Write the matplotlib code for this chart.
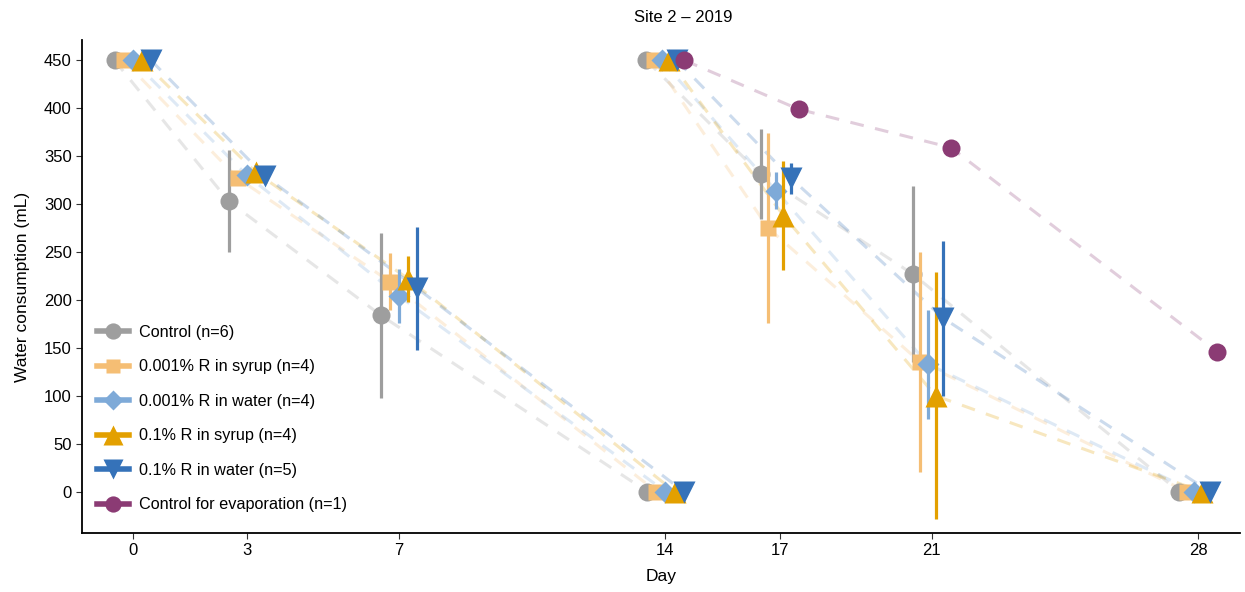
# coding: utf-8

import numpy as np
import matplotlib
matplotlib.use('agg')
import matplotlib.pyplot as plt
from matplotlib.lines import Line2D

plt.rcParams['font.family'] = ['Liberation Sans', 'DejaVu Sans']

groups = ['Control (n=6)', '0.001% R in syrup (n=4)', '0.001% R in water (n=4)',
          '0.1% R in syrup (n=4)', '0.1% R in water (n=5)',
          'Control for evaporation (n=1)']
colors = ['#9e9e9e', '#f5be74', '#7eaad8', '#e3a000', '#3572b9', '#8b3b74']
markers = ['o', 's', 'D', '^', 'v', 'o']
msizes = [13, 11.5, 11, 16.5, 16.5, 13]

day_ticks = [0, 3, 7, 14, 17, 21, 28]

# first refill cycle (days 0-14), no evaporation control
days_1 = [0, 3, 7, 14]
means_1 = [
    [450, 303, 184, 0],
    [450, 327, 219, 0],
    [450, 330, 204, 0],
    [450, 333, 222, 0],
    [450, 329, 212, 0],
]
se_1 = [
    [0, 53, 86, 0],
    [0, 6, 30, 0],
    [0, 5, 28, 0],
    [0, 6, 24, 0],
    [0, 5, 64, 0],
]

# second refill cycle (days 14-28)
days_2 = [14, 17, 21, 28]
means_2 = [
    [450, 331, 227, 0],
    [450, 275, 135, 0],
    [450, 314, 133, 0],
    [450, 288, 100, 0],
    [450, 327, 181, 0],
    [450, 399, 359, 146],
]
se_2 = [
    [0, 47, 92, 0],
    [0, 99, 115, 0],
    [0, 19, 57, 0],
    [0, 57, 129, 0],
    [0, 16, 81, 0],
    [0, 0, 0, 0],
]

DODGE = 1.2


def draw_cycle(ax, days, means, se):
    n = len(means)
    for i, (m, s) in enumerate(zip(means, se)):
        x = np.array(days) + (i - (n - 1) / 2.0) * DODGE / n
        ax.plot(x, m, color=colors[i], lw=2.2, alpha=0.25,
                ls=(0, (4.5, 3.8)), zorder=1)
        m = np.array(m, dtype=float)
        s = np.array(s, dtype=float)
        ax.vlines(x, m - s, m + s, color=colors[i], lw=2.3, zorder=2 + i)
        ax.plot(x, m, ls='none', marker=markers[i], ms=msizes[i],
                color=colors[i], mec='none', zorder=2.5 + i)


fig = plt.figure(figsize=(12.45, 5.92), dpi=100)
ax = fig.add_axes([0.066, 0.1, 0.93, 0.832])

draw_cycle(ax, days_1, means_1, se_1)
draw_cycle(ax, days_2, means_2, se_2)

ax.set_xlim(-1.33, 29.1)
ax.set_ylim(-43, 471)
ax.set_xticks(day_ticks)
ax.set_yticks(np.arange(0, 451, 50))
ax.tick_params(labelsize=12, length=4, width=0.8, color='#333333',
               labelcolor='black')
for side in ['top', 'right']:
    ax.spines[side].set_visible(False)
for side in ['left', 'bottom']:
    ax.spines[side].set_linewidth(1.3)
ax.set_xlabel('Day', fontsize=12.5, labelpad=8)
ax.set_ylabel('Water consumption (mL)', fontsize=12.5, labelpad=10)
fig.text(0.549, 0.97, 'Site 2 \u2013 2019', ha='center', va='center',
         fontsize=12)

handles = [Line2D([], [], color=c, marker=mk, ms=ms * 0.9, mec='none',
                  lw=4)
           for c, mk, ms in zip(colors, markers, msizes)]
ax.legend(handles, groups, loc='lower left', bbox_to_anchor=(0.0, 0.012),
          frameon=False, fontsize=11.7, handlelength=2.0,
          handletextpad=0.6, labelspacing=1.2)

fig.savefig('out.png', dpi=100)
